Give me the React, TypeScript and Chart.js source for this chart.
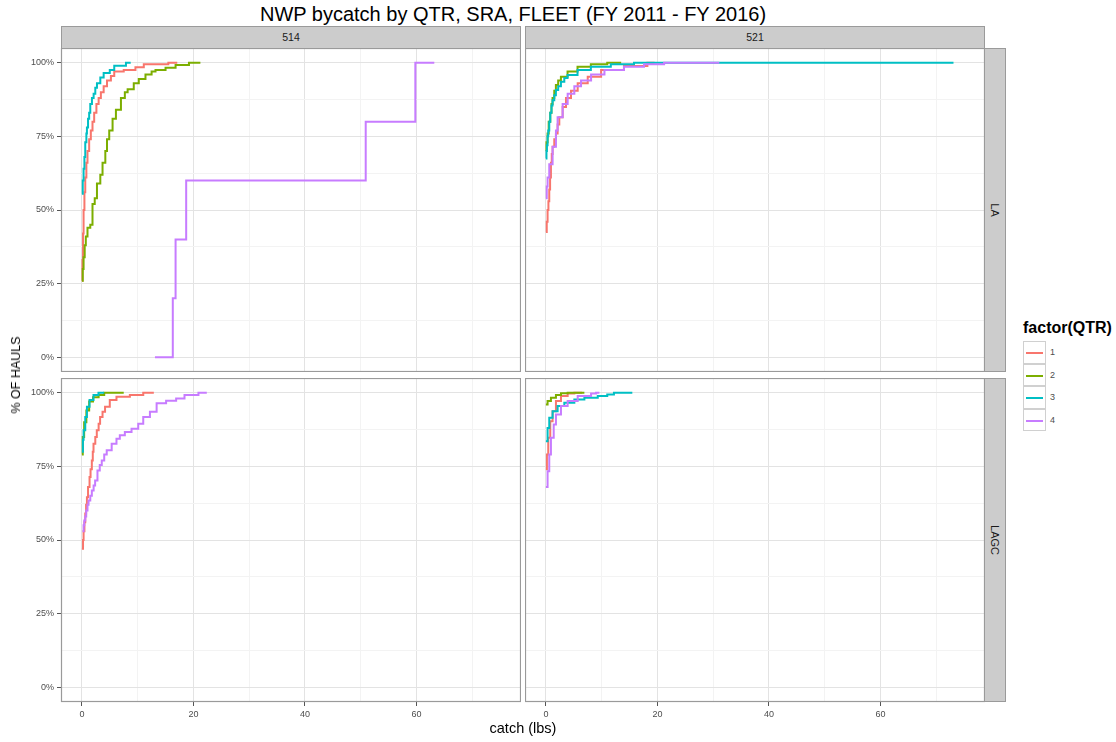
import React, { useEffect, useRef } from 'react';
import { Chart, registerables } from 'chart.js';

Chart.register(...registerables);

// ---------- labels ----------
const chartTitle = 'NWP bycatch by QTR, SRA, FLEET (FY 2011 - FY 2016)';
const sraLabels = ['514', '521'];
const fleetLabels = ['LA', 'LAGC'];
const qtrLabels = ['1', '2', '3', '4'];
const qtrColors = ['#F8766D', '#7CAE00', '#00BFC4', '#C77CFF'];
const legendTitle = 'factor(QTR)';
const xAxisTitle = 'catch (lbs)';
const yAxisTitle = '% OF HAULS';

// ---------- axes ----------
const xMin = -3.75;
const xMax = 78.75;
const xMajor = [0, 20, 40, 60];
const xMinor = [10, 30, 50, 70];
const yMin = -5;
const yMax = 105;
const yMajor = [0, 25, 50, 75, 100];
const yMinor = [12.5, 37.5, 62.5, 87.5];

// ---------- data: [catch (lbs), % of hauls] ----------
const sra514LA_Q1: [number, number][] = [
  [0, 26], [0.1, 33], [0.2, 42], [0.3, 50], [0.45, 56], [0.6, 61], [0.8, 66], [1.0, 70],
  [1.3, 74], [1.6, 77], [1.9, 80], [2.2, 83], [2.6, 86], [3.0, 88], [3.4, 90], [3.9, 92],
  [4.5, 94], [5.2, 95.5], [5.8, 97], [7.5, 97.5], [9.6, 98.5], [11.1, 99.5], [15.5, 100], [17.1, 100],
];
const sra514LA_Q2: [number, number][] = [
  [0, 26], [0.15, 30], [0.3, 34], [0.5, 38], [0.7, 41], [1.0, 44], [1.5, 45], [1.9, 52],
  [2.3, 54], [2.7, 59], [3.3, 62], [3.7, 66], [4.2, 70], [4.5, 74], [4.9, 77], [5.5, 81],
  [6.1, 84], [7.0, 88], [7.7, 90], [8.2, 91], [9.3, 93], [10.2, 94.5], [11.4, 96], [12.5, 97],
  [13.2, 97.5], [15, 98.3], [16.8, 99.2], [19.2, 100], [21.25, 100],
];
const sra514LA_Q3: [number, number][] = [
  [0, 55.5], [0.15, 60], [0.3, 64], [0.45, 68], [0.6, 73], [0.8, 76], [0.9, 78], [1.1, 81],
  [1.3, 83], [1.5, 86], [1.8, 88], [2.1, 89.5], [2.4, 91.5], [2.7, 93], [3.3, 95], [3.9, 96.5],
  [5.0, 97.5], [5.8, 99], [7.9, 100], [8.75, 100],
];
const sra514LA_Q4: [number, number][] = [
  [13.1, 0], [16.3, 20], [16.8, 40], [18.7, 60], [50.9, 80], [59.8, 100], [63.2, 100],
];

const sra521LA_Q1: [number, number][] = [
  [0, 42.5], [0.15, 46], [0.3, 50], [0.45, 53], [0.6, 57], [0.75, 61], [0.9, 66], [1.05, 69],
  [1.2, 71.5], [1.5, 74], [1.8, 76], [2.1, 79], [2.4, 81.5], [3.0, 85], [3.6, 88], [4.5, 90.5],
  [5.7, 93], [7.5, 95.2], [9.9, 97.5], [14, 98.9], [18.2, 100], [19.5, 100],
];
const sra521LA_Q2: [number, number][] = [
  [0, 70], [0.1, 73], [0.3, 76], [0.5, 80], [0.78, 83], [1.0, 86], [1.19, 88], [1.5, 90.5],
  [1.79, 92.4], [2.2, 94], [2.69, 95.2], [3.88, 97], [5.67, 98.6], [8.06, 99.5], [11, 100], [13.5, 100],
];
const sra521LA_Q3: [number, number][] = [
  [0, 67.5], [0.1, 70], [0.18, 72], [0.3, 75], [0.42, 77], [0.6, 80], [0.78, 83], [1.0, 85.5],
  [1.19, 87.3], [1.5, 89], [1.79, 90.7], [2.2, 92], [2.69, 93.5], [3.3, 94.8], [3.88, 95.8],
  [5.67, 97.5], [8.06, 98.6], [11.64, 99.5], [15.8, 100], [73.1, 100],
];
const sra521LA_Q4: [number, number][] = [
  [0, 54], [0.15, 58], [0.3, 61], [0.6, 65.5], [1.2, 71.5], [1.8, 77], [2.1, 81.5], [3.0, 86],
  [3.9, 89.5], [5.1, 92], [6.3, 94], [8.1, 96], [10.5, 97.5], [14, 98.6], [17.6, 99.5],
  [21.2, 100], [31.1, 100],
];

const sra514LAGC_Q1: [number, number][] = [
  [0, 47], [0.2, 50], [0.3, 53], [0.45, 56], [0.6, 59], [0.75, 62], [0.9, 64.5], [1.1, 68],
  [1.37, 71.4], [1.55, 74], [1.78, 77], [1.95, 80], [2.08, 82.7], [2.4, 85], [2.67, 87.3],
  [3.0, 89.5], [3.26, 91.8], [3.7, 93.5], [4.15, 95.2], [5.0, 97.5], [6.2, 98.6], [8.6, 99.2],
  [11, 100], [12.9, 100],
];
const sra514LAGC_Q2: [number, number][] = [
  [0, 79], [0.15, 85], [0.4, 90], [0.8, 94], [1.3, 97], [2, 98.5], [3, 99.2], [4, 100], [7.5, 100],
];
const sra514LAGC_Q3: [number, number][] = [
  [0, 80], [0.18, 84], [0.3, 87.3], [0.6, 91.8], [0.9, 95.2], [1.37, 97.5], [2.08, 99.2],
  [2.97, 100], [4.0, 100],
];
const sra514LAGC_Q4: [number, number][] = [
  [0.1, 53], [0.3, 55], [0.42, 56.6], [0.6, 58], [0.77, 60], [1.0, 62], [1.19, 63.4], [1.5, 65],
  [1.78, 66.8], [2.1, 68.5], [2.37, 70.2], [2.79, 73.6], [3.2, 75.5], [3.56, 77], [4.0, 79],
  [4.45, 80.5], [5.34, 82.7], [6.2, 84.4], [6.8, 85.6], [7.7, 86.7], [8.9, 87.8], [10.1, 89.5],
  [11, 91.8], [12.2, 93.5], [13.4, 96.4], [15.1, 97.3], [16.9, 98], [18.4, 99.2], [20.9, 100],
  [22.4, 100],
];

const sra521LAGC_Q1: [number, number][] = [
  [0, 74], [0.18, 79], [0.42, 84.7], [0.78, 90.3], [1.2, 93.75], [1.8, 97.2], [2.7, 98.9],
  [3.9, 99.7], [5.1, 100], [6.5, 100],
];
const sra521LAGC_Q2: [number, number][] = [
  [0, 96], [0.3, 97.2], [0.9, 98.3], [1.8, 99.2], [2.7, 99.8], [3.9, 100], [6.9, 100],
];
const sra521LAGC_Q3: [number, number][] = [
  [0, 83.5], [0.3, 88], [0.6, 91.5], [1.2, 93.75], [2.1, 95.5], [3.3, 96.6], [5.1, 97.7],
  [6.9, 98.3], [9.3, 98.9], [11.0, 99.4], [12.2, 100], [15.5, 100],
];
const sra521LAGC_Q4: [number, number][] = [
  [0, 68], [0.3, 73.3], [0.6, 79], [0.9, 84.7], [1.4, 89.2], [1.8, 92.6], [2.7, 95.5],
  [3.9, 97.2], [5.7, 98.9], [8.1, 99.7], [9.0, 100], [9.6, 100],
];

const FONT = '"Liberation Sans", Arial, Helvetica, sans-serif';
const AXIS_TEXT = '#4d4d4d';

// layout of the facet grid (page pixels)
const colX = [61, 525];
const colW = 460;
const rowY = [48, 378];
const rowH = 324;
const yAxisW = 41;
const xAxisH = 22;

const borderPlugin = {
  id: 'panelBorder',
  afterDraw(chart: any) {
    const { ctx, chartArea } = chart;
    ctx.save();
    ctx.strokeStyle = '#9a9a9a';
    ctx.lineWidth = 1.2;
    ctx.strokeRect(chartArea.left + 0.5, chartArea.top + 0.5,
      chartArea.right - chartArea.left - 1, chartArea.bottom - chartArea.top - 1);
    ctx.restore();
  },
};

type PanelProps = {
  series: [number, number][][];
  col: number;
  row: number;
};

function Panel({ series, col, row }: PanelProps) {
  const ref = useRef<HTMLCanvasElement>(null);
  const showY = col === 0;
  const showX = row === 1;
  const left = colX[col] - (showY ? yAxisW : 0);
  const top = rowY[row];
  const width = colW + (showY ? yAxisW : 0);
  const height = rowH + (showX ? xAxisH : 0);

  useEffect(() => {
    if (!ref.current) return;
    const order = [3, 2, 1, 0];
    const datasets = order.map((i) => ({
      label: qtrLabels[i],
      data: series[i].map(([x, y]) => ({ x, y })),
      borderColor: qtrColors[i],
      backgroundColor: qtrColors[i],
      borderWidth: 2,
      pointRadius: 0,
      stepped: 'before' as const,
      fill: false,
    }));
    const isMajorX = (v: number) => xMajor.includes(v);
    const isMajorY = (v: number) => yMajor.includes(v);
    const chart = new Chart(ref.current, {
      type: 'line',
      data: { datasets },
      options: {
        animation: false,
        responsive: false,
        maintainAspectRatio: false,
        events: [],
        layout: { padding: 0 },
        plugins: {
          legend: { display: false },
          tooltip: { enabled: false },
          title: { display: false },
        },
        scales: {
          x: {
            type: 'linear',
            min: xMin,
            max: xMax,
            afterBuildTicks: (s: any) => {
              s.ticks = [...xMajor, ...xMinor].sort((a, b) => a - b).map((v) => ({ value: v }));
            },
            afterFit: (s: any) => {
              s.height = showX ? xAxisH : 0;
              s.paddingLeft = 0;
              s.paddingRight = 0;
            },
            ticks: {
              display: showX,
              autoSkip: false,
              maxRotation: 0,
              minRotation: 0,
              padding: 3,
              color: AXIS_TEXT,
              font: { family: FONT, size: 9 },
              callback: (v: any) => (isMajorX(Number(v)) ? String(v) : ''),
            },
            grid: {
              color: (c: any) => (c.tick && isMajorX(c.tick.value) ? '#e3e3e3' : '#f3f3f3'),
              lineWidth: 1,
              drawTicks: showX,
              tickLength: 4,
              tickColor: (c: any) => (c.tick && isMajorX(c.tick.value) ? '#555555' : 'rgba(0,0,0,0)'),
            },
            border: { display: false },
          },
          y: {
            type: 'linear',
            min: yMin,
            max: yMax,
            afterBuildTicks: (s: any) => {
              s.ticks = [...yMajor, ...yMinor].sort((a, b) => a - b).map((v) => ({ value: v }));
            },
            afterFit: (s: any) => {
              s.width = showY ? yAxisW : 0;
              s.paddingTop = 0;
              s.paddingBottom = 0;
            },
            ticks: {
              display: showY,
              autoSkip: false,
              padding: 3,
              color: AXIS_TEXT,
              font: { family: FONT, size: 9 },
              callback: (v: any) => (isMajorY(Number(v)) ? `${v}%` : ''),
            },
            grid: {
              color: (c: any) => (c.tick && isMajorY(c.tick.value) ? '#e3e3e3' : '#f3f3f3'),
              lineWidth: 1,
              drawTicks: showY,
              tickLength: 4,
              tickColor: (c: any) => (c.tick && isMajorY(c.tick.value) ? '#555555' : 'rgba(0,0,0,0)'),
            },
            border: { display: false },
          },
        },
      } as any,
      plugins: [borderPlugin],
    });
    return () => chart.destroy();
  }, []);

  return (
    <canvas
      ref={ref}
      width={width}
      height={height}
      style={{ position: 'absolute', left, top, width, height }}
    />
  );
}

const panelSeries: [number, number][][][][] = [
  [
    [sra514LA_Q1, sra514LA_Q2, sra514LA_Q3, sra514LA_Q4],
    [sra521LA_Q1, sra521LA_Q2, sra521LA_Q3, sra521LA_Q4],
  ],
  [
    [sra514LAGC_Q1, sra514LAGC_Q2, sra514LAGC_Q3, sra514LAGC_Q4],
    [sra521LAGC_Q1, sra521LAGC_Q2, sra521LAGC_Q3, sra521LAGC_Q4],
  ],
];

export default function App() {
  const stripBg = '#cccccc';
  const stripBorder = '#9a9a9a';
  return (
    <div
      style={{
        position: 'absolute',
        left: 0,
        top: 0,
        width: 1116,
        height: 742,
        background: '#ffffff',
        fontFamily: FONT,
        overflow: 'hidden',
      }}
    >
      {/* title */}
      <div
        style={{
          position: 'absolute',
          left: 0,
          width: 1026,
          top: 2,
          textAlign: 'center',
          fontSize: 20,
          color: '#000',
          lineHeight: '24px',
          whiteSpace: 'nowrap',
        }}
      >
        {chartTitle}
      </div>

      {/* top strips */}
      {sraLabels.map((s, c) => (
        <div
          key={s}
          style={{
            position: 'absolute',
            left: colX[c],
            top: 26,
            width: colW,
            height: 22,
            boxSizing: 'border-box',
            background: stripBg,
            border: `1px solid ${stripBorder}`,
            borderBottom: 'none',
            fontSize: 10.5,
            color: '#1a1a1a',
            textAlign: 'center',
            lineHeight: '21px',
          }}
        >
          {s}
        </div>
      ))}

      {/* right strips */}
      {fleetLabels.map((f, r) => (
        <div
          key={f}
          style={{
            position: 'absolute',
            left: colX[1] + colW,
            top: rowY[r],
            width: 21,
            height: rowH,
            boxSizing: 'border-box',
            background: stripBg,
            border: `1px solid ${stripBorder}`,
            borderLeft: 'none',
          }}
        >
          <div
            style={{
              position: 'absolute',
              left: '50%',
              top: '50%',
              transform: 'translate(-50%, -50%) rotate(90deg)',
              fontSize: 11,
              color: '#1a1a1a',
              whiteSpace: 'nowrap',
            }}
          >
            {f}
          </div>
        </div>
      ))}

      {/* panels */}
      {panelSeries.map((rowSeries, r) =>
        rowSeries.map((series, c) => <Panel key={`${r}-${c}`} series={series} col={c} row={r} />)
      )}

      {/* axis titles */}
      <div
        style={{
          position: 'absolute',
          left: colX[0],
          width: colX[1] + colW - colX[0],
          top: 720,
          textAlign: 'center',
          fontSize: 14.5,
          color: '#000',
          lineHeight: '17px',
        }}
      >
        {xAxisTitle}
      </div>
      <div
        style={{
          position: 'absolute',
          left: 16,
          top: 375,
          transform: 'translate(-50%, -50%) rotate(-90deg)',
          fontSize: 12.5,
          color: '#000',
          whiteSpace: 'nowrap',
        }}
      >
        {yAxisTitle}
      </div>

      {/* legend */}
      <div
        style={{
          position: 'absolute',
          left: 1023,
          top: 319,
          fontSize: 16,
          fontWeight: 'bold',
          color: '#000',
          whiteSpace: 'nowrap',
          lineHeight: '18px',
        }}
      >
        {legendTitle}
      </div>
      {qtrLabels.map((q, i) => (
        <div key={q} style={{ position: 'absolute', left: 1023, top: 341 + i * 22.5, height: 22.5 }}>
          <div
            style={{
              position: 'absolute',
              left: 0,
              top: 0,
              width: 22.5,
              height: 22.5,
              boxSizing: 'border-box',
              border: '1px solid #d0d0d0',
              background: '#fff',
            }}
          >
            <div
              style={{
                position: 'absolute',
                left: 2,
                right: 2,
                top: 10,
                height: 2,
                background: qtrColors[i],
              }}
            />
          </div>
          <div
            style={{
              position: 'absolute',
              left: 27,
              top: 0,
              lineHeight: '22.5px',
              fontSize: 9,
              color: AXIS_TEXT,
            }}
          >
            {q}
          </div>
        </div>
      ))}
    </div>
  );
}
